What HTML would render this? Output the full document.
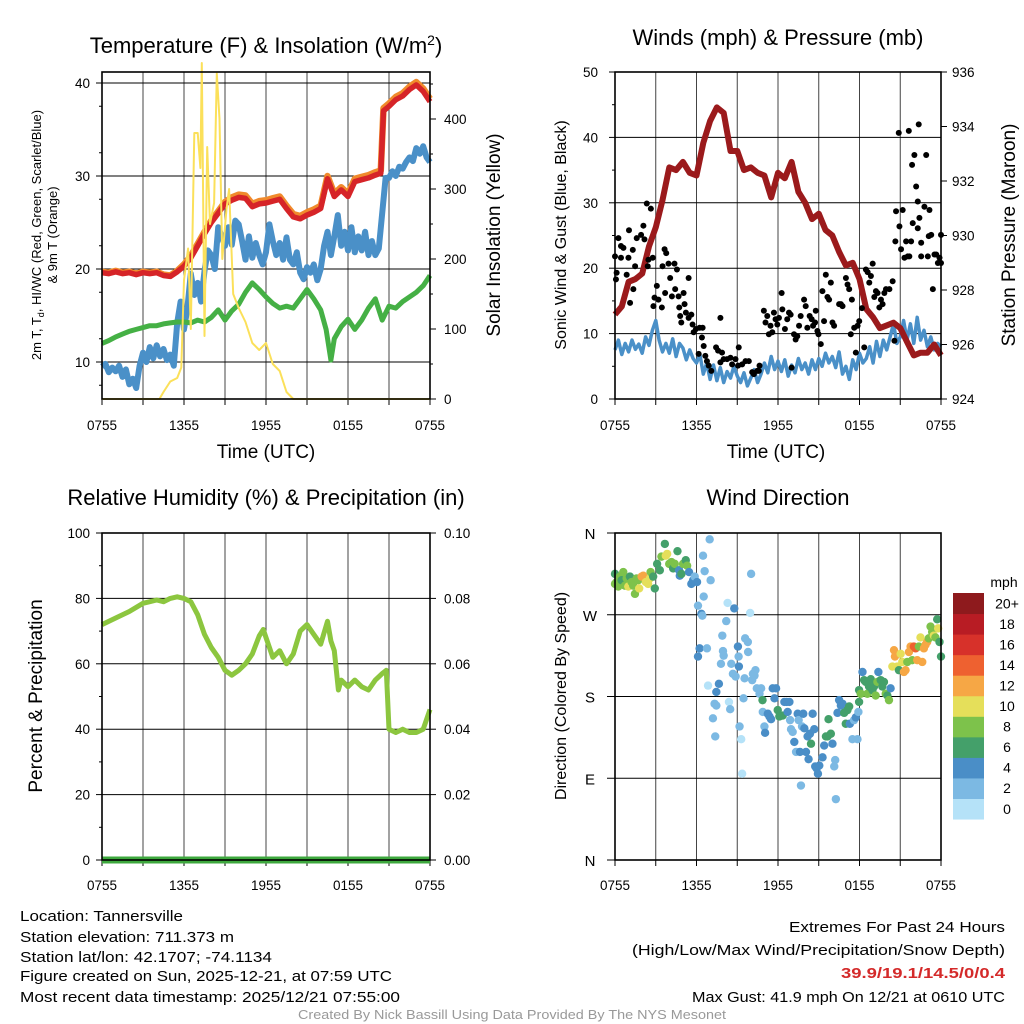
<!DOCTYPE html>
<html><head><meta charset="utf-8"><style>
html,body{margin:0;padding:0;background:#fff;}
svg{display:block;font-family:"Liberation Sans",Arial,sans-serif;}
</style></head><body>
<svg id="chart" width="1024" height="1024" viewBox="0 0 1024 1024">
<rect x="0" y="0" width="1024" height="1024" fill="#fff"/>
<g id="p1"></g>
<g id="p2"></g>
<g id="p3"></g>
<g id="p4"></g>
<g id="txt">
<text x="266" y="53" font-size="22" text-anchor="middle">Temperature (F) &amp; Insolation (W/m<tspan dy="-8" font-size="14">2</tspan><tspan dy="8">)</tspan></text>
<text x="778" y="45" font-size="22" text-anchor="middle">Winds (mph) &amp; Pressure (mb)</text>
<text x="266" y="505" font-size="22" text-anchor="middle">Relative Humidity (%) &amp; Precipitation (in)</text>
<text x="778" y="505" font-size="22" text-anchor="middle">Wind Direction</text>
<text transform="translate(41,235) rotate(-90)" font-size="13" text-anchor="middle">2m T, T<tspan dy="3" font-size="9">d</tspan><tspan dy="-3">, HI/WC (Red, Green, Scarlet/Blue)</tspan></text>
<text transform="translate(57,235) rotate(-90)" font-size="13" text-anchor="middle">&amp; 9m T (Orange)</text>
<text transform="translate(500,235) rotate(-90)" font-size="19" text-anchor="middle">Solar Insolation (Yellow)</text>
<text x="266" y="458" font-size="19" text-anchor="middle">Time (UTC)</text>
<text x="776" y="458" font-size="19" text-anchor="middle">Time (UTC)</text>
<text transform="translate(566,235) rotate(-90)" font-size="16" text-anchor="middle">Sonic Wind &amp; Gust (Blue, Black)</text>
<text transform="translate(1015,235) rotate(-90)" font-size="19" text-anchor="middle">Station Pressure (Maroon)</text>
<text transform="translate(42,696) rotate(-90)" font-size="19" text-anchor="middle">Percent &amp; Precipitation</text>
<text transform="translate(566,696) rotate(-90)" font-size="16" text-anchor="middle">Direction (Colored By Speed)</text>
<text x="1004" y="587" font-size="14" text-anchor="middle">mph</text>
<g font-size="15">
<text x="20" y="921" textLength="163" lengthAdjust="spacingAndGlyphs">Location: Tannersville</text>
<text x="20" y="942" textLength="214" lengthAdjust="spacingAndGlyphs">Station elevation: 711.373 m</text>
<text x="20" y="962" textLength="252" lengthAdjust="spacingAndGlyphs">Station lat/lon: 42.1707; -74.1134</text>
<text x="20" y="981" textLength="372" lengthAdjust="spacingAndGlyphs">Figure created on Sun, 2025-12-21, at 07:59 UTC</text>
<text x="20" y="1002" textLength="380" lengthAdjust="spacingAndGlyphs">Most recent data timestamp: 2025/12/21 07:55:00</text>
</g>
<g font-size="15" text-anchor="end">
<text x="1005" y="932" textLength="216" lengthAdjust="spacingAndGlyphs">Extremes For Past 24 Hours</text>
<text x="1005" y="955" textLength="373" lengthAdjust="spacingAndGlyphs">(High/Low/Max Wind/Precipitation/Snow Depth)</text>
<text x="1005" y="978" fill="#d42a2a" font-weight="bold" textLength="164" lengthAdjust="spacingAndGlyphs">39.9/19.1/14.5/0/0.4</text>
<text x="1005" y="1002" textLength="313" lengthAdjust="spacingAndGlyphs">Max Gust: 41.9 mph On 12/21 at 0610 UTC</text>
</g>
<text x="512" y="1019" font-size="13" fill="#999" text-anchor="middle" textLength="428" lengthAdjust="spacingAndGlyphs">Created By Nick Bassill Using Data Provided By The NYS Mesonet</text>
</g>
</svg>
<script>
// ---------- DATA ----------
const timeLabels = ["0755","1355","1955","0155","0755"];
const tempTicks = [10,20,30,40];
const solarTicks = [0,100,200,300,400];
const windTicks = [0,10,20,30,40,50];
const presTicks = [924,926,928,930,932,934,936];
const rhTicks = [0,20,40,60,80,100];
const precipTicks = ["0.00","0.02","0.04","0.06","0.08","0.10"];
const dirLabels = ["N","E","S","W","N"];
const speedLabels = ["0","2","4","6","8","10","12","14","16","18","20+"];
const speedColors = ["#b5e2f8","#7cb9e3","#4a8ec7","#44a06a","#7dc24b","#e5df5a","#f6a745","#ee6130","#d7312a","#b81c24","#8e1a1d"];

const tempTimes = [0,0.5,1,1.5,2,2.5,3,3.5,4,4.5,5,5.5,6,6.5,7,7.5,8,8.5,9,9.5,10,10.5,11,11.5,12,12.5,13,13.5,14,14.5,15,15.5,16,16.5,17,17.5,18,18.5,19,19.5,20,20.4,20.6,21,21.5,22,22.5,23,23.5,24];
const tempValues = [19.6,19.5,19.7,19.5,19.6,19.4,19.6,19.5,19.6,19.3,19.2,19.7,20.3,21.2,22.5,23.8,25,26,27,27.4,27.7,27.6,26.7,27,27.1,27.3,27.5,26.5,25.6,25.4,25.8,26.1,26.5,29.7,27.8,28.5,27.8,29.4,29.6,29.8,30.1,30.3,37,37.5,38.2,38.6,39.3,39.8,39.1,38];
const tempOrangeValues = [19.7,19.6,19.8,19.6,19.7,19.5,19.7,19.6,19.7,19.4,19.3,19.8,20.5,21.4,22.7,24.0,25.2,26.2,27.2,27.7,28.0,27.9,27.0,27.3,27.4,27.6,27.8,26.8,25.9,25.7,26.1,26.4,26.8,30.0,28.1,28.8,28.1,29.7,29.9,30.1,30.4,30.6,37.3,37.8,38.5,38.9,39.6,40.1,39.4,38.3];
const dewStep = 0.25;
const dewValues = [9.5,9.8,8.9,9.4,9.0,9.6,8.4,9.2,7.6,8.2,7.2,9.6,11.0,10.0,11.6,10.4,11.8,10.6,11.4,10.2,10.8,9.6,14.2,16.5,13.5,15.8,19.5,17.2,18.5,16.5,19.8,22.0,21.5,20.0,24.5,23.5,22.5,24.5,22.6,25.2,24.8,23.0,21.0,23.5,21.2,22.8,21.5,20.5,21.8,24.8,23.0,21.5,22.8,21.0,23.4,21.0,20.5,21.8,19.6,18.9,20.2,19.6,20.5,18.8,20.0,22.5,24.0,21.5,23.5,25.8,22.5,24.0,22.0,24.5,21.8,23.5,22.0,24.0,21.5,23.0,21.5,22.2,26.0,29.8,29.8,30.5,30.0,31.0,30.8,31.5,32.0,31.6,33.0,32.4,33.2,32.0,31.5];
const chillTimes = [0,0.5,1,1.5,2,2.5,3,3.5,4,4.5,5,5.5,6,6.5,7,7.5,8,8.5,9,9.5,10,10.5,11,11.5,12,12.5,13,13.5,14,14.5,15,15.5,16,16.4,16.75,17,17.5,18,18.5,19,19.5,20,20.5,21,21.5,22,22.5,23,23.5,24];
const chillValues = [12,12.3,12.7,13.0,13.3,13.5,13.7,13.9,13.9,14.1,14.2,14.3,14.3,14.2,14.5,14.3,14.8,15.6,14.5,15.5,16.2,17.5,18.5,17.8,17,16.3,15.8,16,15.8,16.8,17.8,16.8,15.6,13.5,10.2,12.5,13.8,14.6,13.5,14.5,15.8,16.8,14.5,16,15.8,16.5,17,17.5,18.2,19.3];
const solarTimes = [0,4.2,4.5,5,5.5,5.8,6.0,6.3,6.5,6.75,7,7.2,7.3,7.5,7.7,7.9,8.2,8.4,8.6,8.8,9.1,9.3,9.6,10,10.5,11,11.5,12,12.5,13,13.5,14,24];
const solarValues = [0,0,10,25,30,45,170,215,100,380,380,330,480,90,360,250,280,465,400,200,270,300,150,130,110,80,70,80,50,40,10,0,0];

const windStep = 0.25;
const windValues = [7.5,9.0,6.8,8.5,7.2,9.0,7.6,8.4,7.0,9.5,8.2,10.5,12.0,9.0,7.2,8.5,7.0,9.2,6.5,8.5,7.8,6.0,7.5,6.2,5.5,6.8,3.8,5.5,3.0,5.2,2.8,4.8,2.5,4.2,3.2,5.0,3.5,2.5,4.0,2.0,3.2,4.5,2.5,3.8,5.5,4.0,6.5,4.5,5.8,4.2,6.0,3.5,5.2,4.0,6.2,4.5,5.5,3.8,6.0,4.5,6.2,5.0,7.0,5.5,6.5,4.8,7.2,3.8,5.0,3.0,6.0,4.5,7.0,5.5,6.2,8.0,5.5,8.8,6.5,9.0,7.5,9.5,11.5,8.5,9.5,12.0,9.0,11.5,8.5,12.5,9.0,10.5,8.0,9.5,7.5,8.5,8.0];
const presTimes = [0,0.5,1,1.5,2,2.5,3,3.5,4,4.5,5,5.5,6,6.5,7,7.5,8,8.5,9,9.5,10,10.5,11,11.5,12,12.5,13,13.5,14,14.5,15,15.5,16,16.5,17,17.5,18,18.5,19,19.5,20,20.5,21,21.5,22,22.5,23,23.5,24];
const presValues = [927.1,927.4,928.3,928.4,928.6,929.6,930.3,931.3,932.5,932.4,932.7,932.3,932.2,933.4,934.2,934.7,934.5,933.1,933.1,932.4,932.5,932.3,932.2,931.4,932.3,932.1,932.7,931.6,931.2,930.6,930.8,930.2,930.0,929.4,928.9,929.0,928.4,927.3,927.0,926.6,926.7,926.8,926.6,926.1,925.6,925.7,925.7,926.0,925.6];
const gustTimes = [0,.12,.07,.25,.44,.62,.44,.86,1.03,.99,1.31,1.35,1.11,1.48,1.6,1.92,2.09,2.17,2.34,2.64,2.41,2.46,2.78,3.08,2.91,2.83,3.2,3.45,3.65,3.77,3.94,3.5,3.69,4.06,4.19,4.38,4.56,4.43,4.68,4.73,5.05,5.12,5.22,5.42,4.8,4.88,5.42,5.62,5.71,5.79,5.96,6.23,6.16,6.45,6.53,6.65,6.4,6.77,6.9,7.09,7.44,7.59,7.76,7.76,7.88,8.0,8.25,8.5,8.62,8.87,9.11,9.06,9.36,9.61,9.85,10.1,10.22,10.47,10.59,10.64,10.96,11.08,11.21,11.33,11.45,11.58,11.7,11.82,11.95,12.07,12.27,12.32,12.51,12.68,12.81,12.93,13.0,13.18,13.3,13.42,13.55,13.67,13.92,14.04,14.16,14.33,14.48,14.58,14.73,14.78,14.9,14.98,15.15,15.27,15.39,15.52,15.64,15.76,15.89,16.01,16.13,16.5,16.63,16.75,17.0,17.12,17.24,17.36,17.44,17.61,17.73,17.86,17.98,18.18,18.35,18.47,18.6,18.72,18.84,18.97,19.09,19.21,19.33,19.46,19.58,19.7,19.83,19.95,20.2,20.44,20.57,20.64,20.69,20.89,20.94,21.06,21.18,21.31,21.43,21.55,21.67,21.8,21.87,21.92,22.04,22.17,22.29,22.29,22.41,22.54,22.54,22.78,22.91,23.03,23.1,23.15,23.28,23.4,23.52,23.65,23.77,23.89,24.0,24,22.36,21.63];
const gustValues = [21.8,19.3,18.3,24.6,23.4,23.1,21.6,19,25.8,21.6,22.8,16.8,14.7,20.3,24.6,25.1,26.5,24.4,29.9,29.1,20.3,21.3,21.6,17.3,15.5,14.2,15.2,14,22.9,22.3,20.7,20.3,16.2,18.5,15.7,20.7,19.8,16.8,15.7,14,16.2,14.5,13.2,18.5,12.7,11.7,12.4,12.9,11.4,10.2,10.7,10.9,6.9,10.9,8.1,6.6,9.4,5.8,5.1,4.3,7.9,7.4,12.4,5.6,7.1,6.1,6.1,6.3,5.3,6.1,7.9,5.1,5.3,5.8,5.8,4.1,3.8,4.3,4.3,5.1,13.5,11.7,12.7,9.9,11.2,10.2,13.2,12.2,11.4,12.4,16.2,13.7,10.7,12.2,13.2,12.9,4.8,9.9,9.1,9.6,11.2,12.7,15.2,14.2,10.9,12.7,12.2,11.2,11.7,13.5,10.4,9.9,8.4,16.5,11.9,19,15.6,15.2,17.8,11.7,11.2,14.5,14.5,14.2,18.5,17.5,16.8,9.9,15.2,10.9,7.1,11.2,11.9,13.9,7.9,19.8,19.4,17.8,18.8,20.7,15.6,16.5,16.2,14,15.2,14.5,16.2,16.8,16.8,18,8.9,24.1,28.7,40.7,26.4,22.9,28.9,21.6,24.1,21.8,21.8,24.1,35.8,26.9,37.3,32.5,30.2,26.1,27.7,21.8,23.9,29.4,37.3,21.8,24.9,28.9,25.1,16.8,22.1,22.1,20.8,21.6,25.1,20.8,42.0,41.0];

const rhTimes = [0,1,2,3,3.5,4,4.5,5,5.5,6,6.5,7,7.5,8,8.5,9,9.5,10,10.5,11,11.5,11.8,12,12.5,13,13.5,14,14.5,15,15.5,16,16.5,16.75,17,17.3,17.5,18,18.5,19,19.5,20,20.5,20.8,21,21.5,22,22.5,23,23.5,24];
const rhValues = [72,74,76,78.5,79,79.5,79,80,80.5,80,79,75,69,65,62,58,56.5,58,60,63,68.5,70.5,68,62,64,60,63,70,72,69,66,73,67,64,52,55,53,55,53,52,55,57,58,40,39,40,39,39,40,46];
const precipTimes = [0,24];
const precipValues = [0,0];

const dirTimes = [0,0,.12,.24,.37,.49,.61,.73,.86,.98,1.1,1.22,1.34,1.47,1.59,1.71,1.78,1.96,2.08,2.27,2.44,2.57,2.62,2.81,2.93,3.1,3.3,3.42,3.67,3.74,3.84,3.99,4.16,4.28,4.4,4.6,4.72,4.77,4.89,5.01,5.21,5.31,5.45,5.62,5.75,5.87,6.04,6.11,6.36,6.43,6.53,6.6,6.48,6.97,7.04,6.11,6.23,6.77,6.85,7.21,7.33,7.46,7.38,7.46,7.65,7.8,7.9,7.95,8.0,8.19,8.29,8.39,8.48,8.56,8.68,8.78,8.88,9.05,9.1,9.12,9.17,9.29,9.36,9.46,9.54,9.58,9.78,9.8,9.95,10.02,10.1,10.15,10.27,10.34,10.44,10.64,10.76,10.86,10.88,11.0,11.05,11.25,11.37,11.49,11.61,11.74,11.86,11.98,12.1,12.35,12.47,12.64,12.71,12.84,12.89,12.96,13.08,13.2,13.33,13.45,13.52,13.62,13.69,13.77,13.86,13.94,14.06,14.18,14.25,14.35,14.43,14.55,14.67,14.74,14.84,14.94,15.04,15.28,15.4,15.53,15.65,15.72,15.89,16.01,16.14,16.21,16.26,16.38,16.5,16.63,16.75,16.87,16.99,17.11,17.24,17.29,17.48,17.6,17.73,17.85,17.92,17.97,17.97,18.09,18.22,18.34,18.46,18.58,18.7,18.83,18.95,19.07,19.19,19.32,19.39,19.56,19.68,19.8,19.93,20.05,20.17,20.29,20.42,20.54,20.61,20.78,20.9,21.03,21.15,21.27,21.39,21.52,21.64,21.76,21.88,22.0,22.13,22.25,22.37,22.49,22.62,22.74,22.86,22.98,23.1,23.23,23.35,23.47,23.59,23.72,23.79,23.89,24.0];
const dirValues = [304,315,306,301,312,308,317,302,310,301,312,306,302,293,310,308,299,312,313,306,304,310,317,312,299,326,319,334,348,335,337,326,328,321,326,340,319,313,315,326,330,324,317,304,308,312,306,280,271,269,290,318,335,353,308,224,233,233,192,156,172,170,136,185,194,216,247,230,225,263,283,174,166,216,205,277,202,235,224,213,147,133,95,178,200,244,240,229,272,315,198,205,203,209,189,183,189,176,163,147,140,161,158,155,189,178,189,165,158,159,174,174,163,174,154,144,141,130,119,161,154,119,82,147,161,145,119,136,111,139,128,161,144,103,101,95,104,113,126,136,136,155,139,128,103,110,67,162,176,170,172,162,150,165,169,150,133,154,157,133,163,174,187,183,207,198,196,183,191,199,187,191,181,196,207,198,191,196,183,181,176,189,213,231,224,213,209,227,218,207,209,218,229,235,220,235,233,220,235,245,218,233,237,240,244,257,251,247,245,265,255,240,224];
const dirSpeeds = [9,7,8,9,8,7,9,8,9,11,7,9,8,9,9,9,11,12,13,10,11,10,9,7,7,7,7,9,7,10,11,9,9,7,8,7,5,5,7,9,7,9,5,5,5,3,5,3,5,3,3,3,3,3,3,5,5,3,1,3,3,3,3,5,5,3,3,3,3,3,1,1,3,3,3,5,3,5,3,5,3,1,1,3,3,3,3,3,1,3,3,3,3,3,3,3,3,7,3,3,5,5,5,5,5,5,5,7,7,7,5,5,5,5,3,3,3,5,3,5,3,5,3,3,5,5,5,5,5,5,7,5,5,5,5,5,5,5,5,7,7,7,7,5,3,3,3,5,5,5,5,7,7,7,7,5,3,3,5,3,3,7,7,9,5,7,7,9,7,7,7,7,9,9,5,7,7,7,9,7,9,5,11,13,13,11,7,11,11,13,13,9,13,13,9,15,15,13,9,11,13,13,13,13,9,9,9,11,9,7,11,7,7];

// ---------- HELPERS ----------
const NS = "http://www.w3.org/2000/svg";
function mk(tag, attrs, parent){const e=document.createElementNS(NS,tag);for(const k in attrs)e.setAttribute(k,attrs[k]);parent.appendChild(e);return e;}
function xs(x0,x1){return t=>x0+t/24*(x1-x0);}
function lin(d0,d1,r0,r1){return v=>r0+(v-d0)/(d1-d0)*(r1-r0);}
function pathFrom(ts,vs,fx,fy){let d="";for(let i=0;i<vs.length;i++){d+=(i?"L":"M")+fx(ts[i]).toFixed(1)+","+fy(vs[i]).toFixed(1);}return d;}
function stepTimes(n,step){const a=[];for(let i=0;i<n;i++)a.push(i*step);return a;}

function frame(g,x0,x1,y0,y1,fx,labelY){
  for(let h=3;h<24;h+=3){
    const l=mk("line",{x1:fx(h),x2:fx(h),y1:y0,y2:y1,stroke:"#444","stroke-width":1},g);
    
    
  }
  for(let h=0;h<=24;h+=3){
    mk("line",{x1:fx(h),x2:fx(h),y1:y1,y2:y1+6,stroke:"#000"},g);
  }
  timeLabels.forEach((s,i)=>{
    const t=mk("text",{x:fx(i*6),y:labelY,"font-size":13.5,"text-anchor":"middle"},g);
    t.textContent=s;
    
    
  });
}
function hgrid(g,x0,x1,y){mk("line",{x1:x0,x2:x1,y1:y,y2:y,stroke:"#000","stroke-width":1},g);}
function box(g,x0,x1,y0,y1){
  const r=mk("rect",{x:x0,y:y0,width:x1-x0,height:y1-y0,fill:"none",stroke:"#000","stroke-width":1.6},g);
  
  
}
function ytick(g,x,y,dir,label,anchorX,anchor,len){
  mk("line",{x1:x,x2:x+dir*(len||6),y1:y,y2:y,stroke:"#000"},g);
  if(label!==null){const t=mk("text",{x:anchorX,y:y+5,"font-size":13.5,"text-anchor":anchor},g);t.textContent=label;
    
    }
}

// ---------- PANEL 1 ----------
(function(){
  const g=document.getElementById("p1");
  const x0=102,x1=430,y0=72,y1=399;
  const fx=xs(x0,x1), fy=lin(10,40,362,83), fs=lin(0,400,399,119);
  frame(g,x0,x1,y0,y1,fx,430);
  tempTicks.forEach(v=>{hgrid(g,x0,x1,fy(v));ytick(g,x0,fy(v),-1,String(v),90,"end");});
  [7.5,12.5,17.5,22.5,27.5,32.5,37.5].forEach(v=>ytick(g,x0,fy(v),-1,null,0,"",3));
  solarTicks.forEach(v=>ytick(g,x1,fs(v),1,String(v),444,"start"));
  [50,150,250,350,450].forEach(v=>ytick(g,x1,fs(v),1,null,0,"",3));
  const o=mk("path",{d:pathFrom(tempTimes,tempOrangeValues,fx,fy),fill:"none",stroke:"#f08a2c","stroke-width":6.5,"stroke-linejoin":"round"},g);
  
  
  const b=mk("path",{d:pathFrom(stepTimes(dewValues.length,dewStep),dewValues,fx,fy),fill:"none",stroke:"#4a90c8","stroke-width":6,"stroke-linejoin":"round"},g);
  
  
  const gr=mk("path",{d:pathFrom(chillTimes,chillValues,fx,fy),fill:"none",stroke:"#45b045","stroke-width":5,"stroke-linejoin":"round"},g);
  
  
  const r=mk("path",{d:pathFrom(tempTimes,tempValues,fx,fy),fill:"none",stroke:"#d62428","stroke-width":5.5,"stroke-linejoin":"round"},g);
  
  
  const y=mk("path",{d:pathFrom(solarTimes,solarValues,fx,fs),fill:"none",stroke:"#fbe05a","stroke-width":2,"stroke-linejoin":"round"},g);
  
  
  box(g,x0,x1,y0,y1);
})();

// ---------- PANEL 2 ----------
(function(){
  const g=document.getElementById("p2");
  const x0=615,x1=941,y0=72,y1=399;
  const fx=xs(x0,x1), fy=lin(0,50,399,72), fp=lin(924,936,399,72);
  frame(g,x0,x1,y0,y1,fx,430);
  windTicks.forEach(v=>{hgrid(g,x0,x1,fy(v));ytick(g,x0,fy(v),-1,String(v),598,"end");});
  [5,15,25,35,45].forEach(v=>ytick(g,x0,fy(v),-1,null,0,"",3));
  presTicks.forEach(v=>ytick(g,x1,fp(v),1,String(v),952,"start"));
  const bl=mk("path",{d:pathFrom(stepTimes(windValues.length,windStep),windValues,fx,fy),fill:"none",stroke:"#4a90c8","stroke-width":3.5,"stroke-linejoin":"round"},g);
  
  
  const m=mk("path",{d:pathFrom(presTimes,presValues,fx,fp),fill:"none",stroke:"#9b1a1c","stroke-width":6,"stroke-linejoin":"round"},g);
  
  
  gustValues.forEach((v,i)=>{
    const c=mk("circle",{cx:fx(gustTimes[i]),cy:fy(v),r:3,fill:"#000"},g);
    
    
  });
  box(g,x0,x1,y0,y1);
})();

// ---------- PANEL 3 ----------
(function(){
  const g=document.getElementById("p3");
  const x0=102,x1=430,y0=533,y1=860;
  const fx=xs(x0,x1), fy=lin(0,100,860,533), fq=lin(0,0.1,860,533);
  frame(g,x0,x1,y0,y1,fx,890);
  rhTicks.forEach(v=>{hgrid(g,x0,x1,fy(v));ytick(g,x0,fy(v),-1,String(v),90,"end");});
  [10,30,50,70,90].forEach(v=>ytick(g,x0,fy(v),-1,null,0,"",3));
  precipTicks.forEach(s=>ytick(g,x1,fq(parseFloat(s)),1,s,444,"start"));
  const rh=mk("path",{d:pathFrom(rhTimes,rhValues,fx,fy),fill:"none",stroke:"#8cc63f","stroke-width":5,"stroke-linejoin":"round"},g);
  
  
  const pr=mk("path",{d:pathFrom(precipTimes,precipValues,fx,fq),fill:"none",stroke:"#3ea83e","stroke-width":7},g);
  
  
  box(g,x0,x1,y0,y1);
})();

// ---------- PANEL 4 ----------
(function(){
  const g=document.getElementById("p4");
  const x0=615,x1=941,y0=533,y1=860;
  const fx=xs(x0,x1), fy=lin(0,360,860,533);
  frame(g,x0,x1,y0,y1,fx,890);
  dirLabels.forEach((s,i)=>{
    const y=fy(i*90);
    hgrid(g,x0-8,x1,y);
    const t=mk("text",{x:590,y:y+6,"font-size":15,"text-anchor":"middle"},g);
    t.textContent=s;
    
    
  });
  dirValues.forEach((d,i)=>{
    const idx=Math.min(10,Math.floor(dirSpeeds[i]/2));
    const c=mk("circle",{cx:fx(dirTimes[i]),cy:fy(d),r:4.2,fill:speedColors[idx]},g);
    
    
  });
  box(g,x0,x1,y0,y1);
  const cb=mk("g",{},g);
  
  
  const top=593,h=20.55;
  speedLabels.forEach((s,i)=>{
    const k=10-i;
    const yy=top+k*h;
    const r=mk("rect",{x:953,y:yy,width:31,height:h+0.5,fill:speedColors[i]},cb);
    
    
    const t=mk("text",{x:1007,y:yy+h/2+5,"font-size":14,"text-anchor":"middle"},cb);
    t.textContent=s;
    
    
  });
})();
</script>
</body></html>
